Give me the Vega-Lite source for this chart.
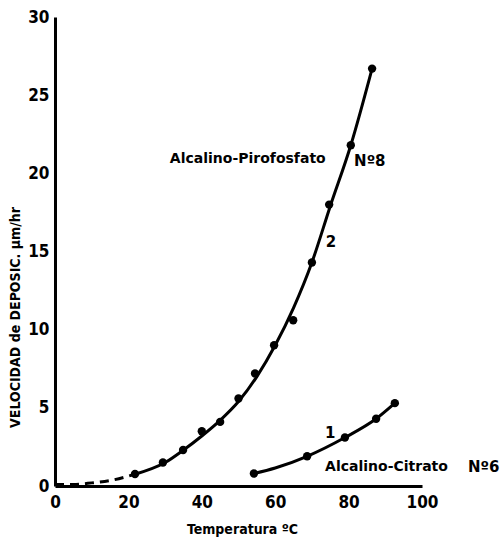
{
  "$schema": "https://vega.github.io/schema/vega-lite/v6.json",
  "width": 367,
  "height": 469,
  "autosize": {"type": "none"},
  "padding": {"left": 55, "top": 17, "right": 82, "bottom": 63},
  "background": "white",
  "config": {
    "view": {"stroke": null},
    "font": "DejaVu Sans Condensed",
    "axis": {"grid": false, "ticks": false, "labelFlush": false, "domainColor": "black", "domainWidth": 3, "labelFont": "DejaVu Sans Condensed", "labelFontWeight": "bold", "labelFontSize": 17, "labelColor": "black", "titleFont": "DejaVu Sans Condensed", "titleFontWeight": "bold", "titleColor": "black"}
  },
  "datasets": {
    "curves": [
      {"serie": "2d", "t": 0, "v": 0.1},
      {"serie": "2d", "t": 5, "v": 0.1},
      {"serie": "2d", "t": 10, "v": 0.2},
      {"serie": "2d", "t": 15, "v": 0.35},
      {"serie": "2d", "t": 21.8, "v": 0.75},
      {"serie": "2", "t": 21.8, "v": 0.75},
      {"serie": "2", "t": 30, "v": 1.5},
      {"serie": "2", "t": 35, "v": 2.3},
      {"serie": "2", "t": 40, "v": 3.2},
      {"serie": "2", "t": 45, "v": 4.2},
      {"serie": "2", "t": 50, "v": 5.4},
      {"serie": "2", "t": 55, "v": 7.0},
      {"serie": "2", "t": 60, "v": 9.0},
      {"serie": "2", "t": 65, "v": 11.4},
      {"serie": "2", "t": 70, "v": 14.3},
      {"serie": "2", "t": 75, "v": 17.9},
      {"serie": "2", "t": 80.6, "v": 21.8},
      {"serie": "2", "t": 86.4, "v": 26.7},
      {"serie": "1", "t": 54.2, "v": 0.8},
      {"serie": "1", "t": 60, "v": 1.15},
      {"serie": "1", "t": 68.7, "v": 1.9},
      {"serie": "1", "t": 79, "v": 3.1},
      {"serie": "1", "t": 87.5, "v": 4.3},
      {"serie": "1", "t": 92.6, "v": 5.3}
    ],
    "points": [
      {"serie": "2", "t": 21.8, "v": 0.77},
      {"serie": "2", "t": 29.4, "v": 1.5},
      {"serie": "2", "t": 34.9, "v": 2.3},
      {"serie": "2", "t": 40.0, "v": 3.5},
      {"serie": "2", "t": 45.0, "v": 4.1},
      {"serie": "2", "t": 50.0, "v": 5.6},
      {"serie": "2", "t": 54.5, "v": 7.2},
      {"serie": "2", "t": 59.7, "v": 9.0},
      {"serie": "2", "t": 64.9, "v": 10.6},
      {"serie": "2", "t": 70.0, "v": 14.3},
      {"serie": "2", "t": 74.7, "v": 18.0},
      {"serie": "2", "t": 80.6, "v": 21.8},
      {"serie": "2", "t": 86.4, "v": 26.7},
      {"serie": "1", "t": 54.2, "v": 0.8},
      {"serie": "1", "t": 68.7, "v": 1.9},
      {"serie": "1", "t": 79.0, "v": 3.1},
      {"serie": "1", "t": 87.5, "v": 4.3},
      {"serie": "1", "t": 92.6, "v": 5.3}
    ],
    "labels": [
      {"t": 31.3, "v": 20.9, "txt": "Alcalino-Pirofosfato", "size": 14},
      {"t": 81.5, "v": 20.8, "txt": "Nº8", "size": 15},
      {"t": 73.8, "v": 15.6, "txt": "2", "size": 15},
      {"t": 73.6, "v": 3.4, "txt": "1", "size": 15},
      {"t": 73.6, "v": 1.2, "txt": "Alcalino-Citrato", "size": 14},
      {"t": 112.5, "v": 1.2, "txt": "Nº6", "size": 15}
    ]
  },
  "encoding": {
    "x": {"field": "t", "type": "quantitative", "scale": {"domain": [0, 100], "nice": false, "zero": false},
      "axis": {"values": [0, 20, 40, 60, 80, 100], "labelPadding": 8, "title": "Temperatura ºC", "titleFontSize": 14, "titlePadding": 12, "titleX": 187}},
    "y": {"field": "v", "type": "quantitative", "scale": {"domain": [0, 30], "nice": false},
      "axis": {"values": [0, 5, 10, 15, 20, 25, 30], "labelPadding": 6, "title": "VELOCIDAD de DEPOSIC. µm/hr", "titleFontSize": 14, "titleX": -33, "titleY": 300}}
  },
  "layer": [
    {"data": {"name": "curves"}, "transform": [{"filter": "datum.serie === '2'"}], "mark": {"type": "line", "color": "black", "strokeWidth": 3, "interpolate": "monotone"}},
    {"data": {"name": "curves"}, "transform": [{"filter": "datum.serie === '2d'"}], "mark": {"type": "line", "color": "black", "strokeWidth": 3, "strokeDash": [9, 6], "interpolate": "monotone"}},
    {"data": {"name": "curves"}, "transform": [{"filter": "datum.serie === '1'"}], "mark": {"type": "line", "color": "black", "strokeWidth": 3, "interpolate": "monotone"}},
    {"data": {"name": "points"}, "mark": {"type": "point", "filled": true, "color": "black", "opacity": 1, "size": 70}},
    {"data": {"name": "labels"}, "mark": {"type": "text", "align": "left", "baseline": "middle", "font": "DejaVu Sans", "fontWeight": "bold", "color": "black", "clip": false},
      "encoding": {"text": {"field": "txt"}, "size": {"field": "size", "type": "quantitative", "scale": null}}}
  ]
}
